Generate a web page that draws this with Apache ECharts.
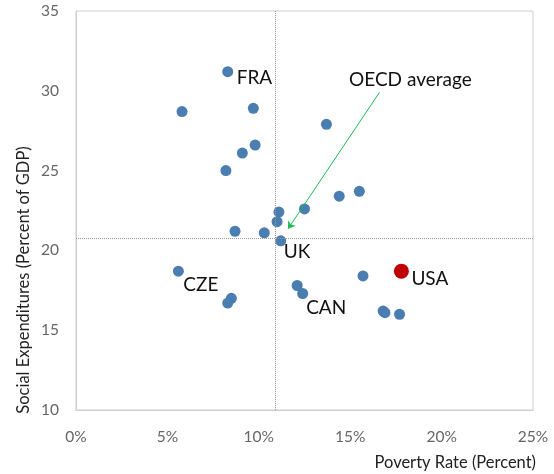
<!DOCTYPE html>
<html>
<head>
<meta charset="utf-8">
<script src="https://cdn.jsdelivr.net/npm/echarts@6/dist/echarts.min.js"></script>
<style>
  html, body { margin: 0; padding: 0; background: #fff; }
  #chart { width: 554px; height: 474px; }
</style>
</head>
<body>
<div id="chart"></div>
<script>
// poverty rate (%) vs social expenditures (% of GDP), OECD countries
var povertyRate = [8.3, 5.8, 9.7, 9.8, 9.1, 8.2, 8.7, 10.3, 11.1, 11.0, 13.7, 14.4, 15.5, 12.5,
                   11.2, 5.6, 8.5, 8.3, 15.7, 12.1, 12.4, 16.8, 16.9, 17.7];
var socialExp   = [31.2, 28.7, 28.9, 26.6, 26.1, 25.0, 21.2, 21.1, 22.4, 21.8, 27.9, 23.4, 23.7, 22.6,
                   20.6, 18.7, 17.0, 16.7, 18.4, 17.8, 17.3, 16.2, 16.1, 16.0];
var countryLabel = ['FRA', '', '', '', '', '', '', '', '', '', '', '', '', '',
                    'UK', 'CZE', '', '', '', '', 'CAN', '', '', ''];
var usa = [17.8, 18.7];
var oecdAvg = [10.9, 20.75];
var arrowFrom = [16.6, 29.9];
var arrowTo = [11.6, 21.35];
var xTicks = [0, 25, 5];
var yTicks = [10, 35, 5];

// label nudges (px) per country
var labelOffset = { FRA: [-1.5, 6.5], UK: [-7.5, 11], CZE: [-5.5, 14], CAN: [-7, 14], USA: [-2.5, 8] };

var pts = povertyRate.map(function (x, i) {
    var item = { value: [x, socialExp[i]], name: countryLabel[i] };
    if (countryLabel[i]) item.label = { offset: labelOffset[countryLabel[i]] };
    return item;
});

var myChart = echarts.init(document.getElementById('chart'));
var font = 'Lato, "Open Sans", sans-serif';
var labelStyle = {
    show: true,
    formatter: '{b}',
    position: 'right',
    color: '#111', fontSize: 19, fontFamily: font
};
myChart.setOption({
    animation: false,
    grid: {
        left: 76, right: 21, top: 11, bottom: 64,
        show: true, borderColor: '#cfcfcf', borderWidth: 1
    },
    graphic: [{
        type: 'text', left: 349, top: 70,
        style: { text: 'OECD average', fill: '#111', fontSize: 19, fontFamily: font }
    }, {
        type: 'text', x: 24, y: 280, rotation: Math.PI / 2,
        style: { text: 'Social Expenditures (Percent of GDP)', fill: '#222', fontSize: 16.5, fontFamily: font,
                 align: 'center', verticalAlign: 'middle' }
    }],
    xAxis: {
        type: 'value',
        min: xTicks[0], max: xTicks[1], interval: xTicks[2],
        axisLine: { show: true, lineStyle: { color: '#cfcfcf' } },
        axisTick: { show: false },
        splitLine: { show: false },
        axisLabel: { formatter: '{value}%', color: '#666', fontSize: 15.5, margin: 19, fontFamily: font },
        name: 'Poverty Rate (Percent)',
        nameLocation: 'end',
        nameGap: 3,
        nameTextStyle: { color: '#222', fontSize: 16.5, fontFamily: font, align: 'right', verticalAlign: 'top', padding: [44, 0, 0, 0] }
    },
    yAxis: {
        type: 'value',
        min: yTicks[0], max: yTicks[1], interval: yTicks[2],
        axisLine: { show: true, lineStyle: { color: '#cfcfcf' } },
        axisTick: { show: false },
        splitLine: { show: false },
        axisLabel: { color: '#666', fontSize: 15.5, margin: 17, fontFamily: font }
    },
    series: [{
        type: 'scatter',
        data: pts,
        symbolSize: 11,
        itemStyle: { color: '#4a7db0', opacity: 1 },
        label: labelStyle,
        markLine: {
            silent: true,
            symbol: 'none',
            label: { show: false },
            lineStyle: { color: '#999', type: 'dotted', width: 1 },
            data: [{ xAxis: oecdAvg[0] }, { yAxis: oecdAvg[1] }]
        }
    }, {
        type: 'scatter',
        data: [{ value: usa, name: 'USA', label: { offset: labelOffset.USA } }],
        symbolSize: 15,
        itemStyle: { color: '#c00000', opacity: 1 },
        label: labelStyle,
        markLine: {
            silent: true,
            symbol: ['none', 'arrow'],
            symbolSize: 7,
            lineStyle: { color: '#1db954', type: 'solid', width: 1 },
            label: { show: false },
            data: [[{ coord: arrowFrom }, { coord: arrowTo }]]
        }
    }]
});
</script>
</body>
</html>
